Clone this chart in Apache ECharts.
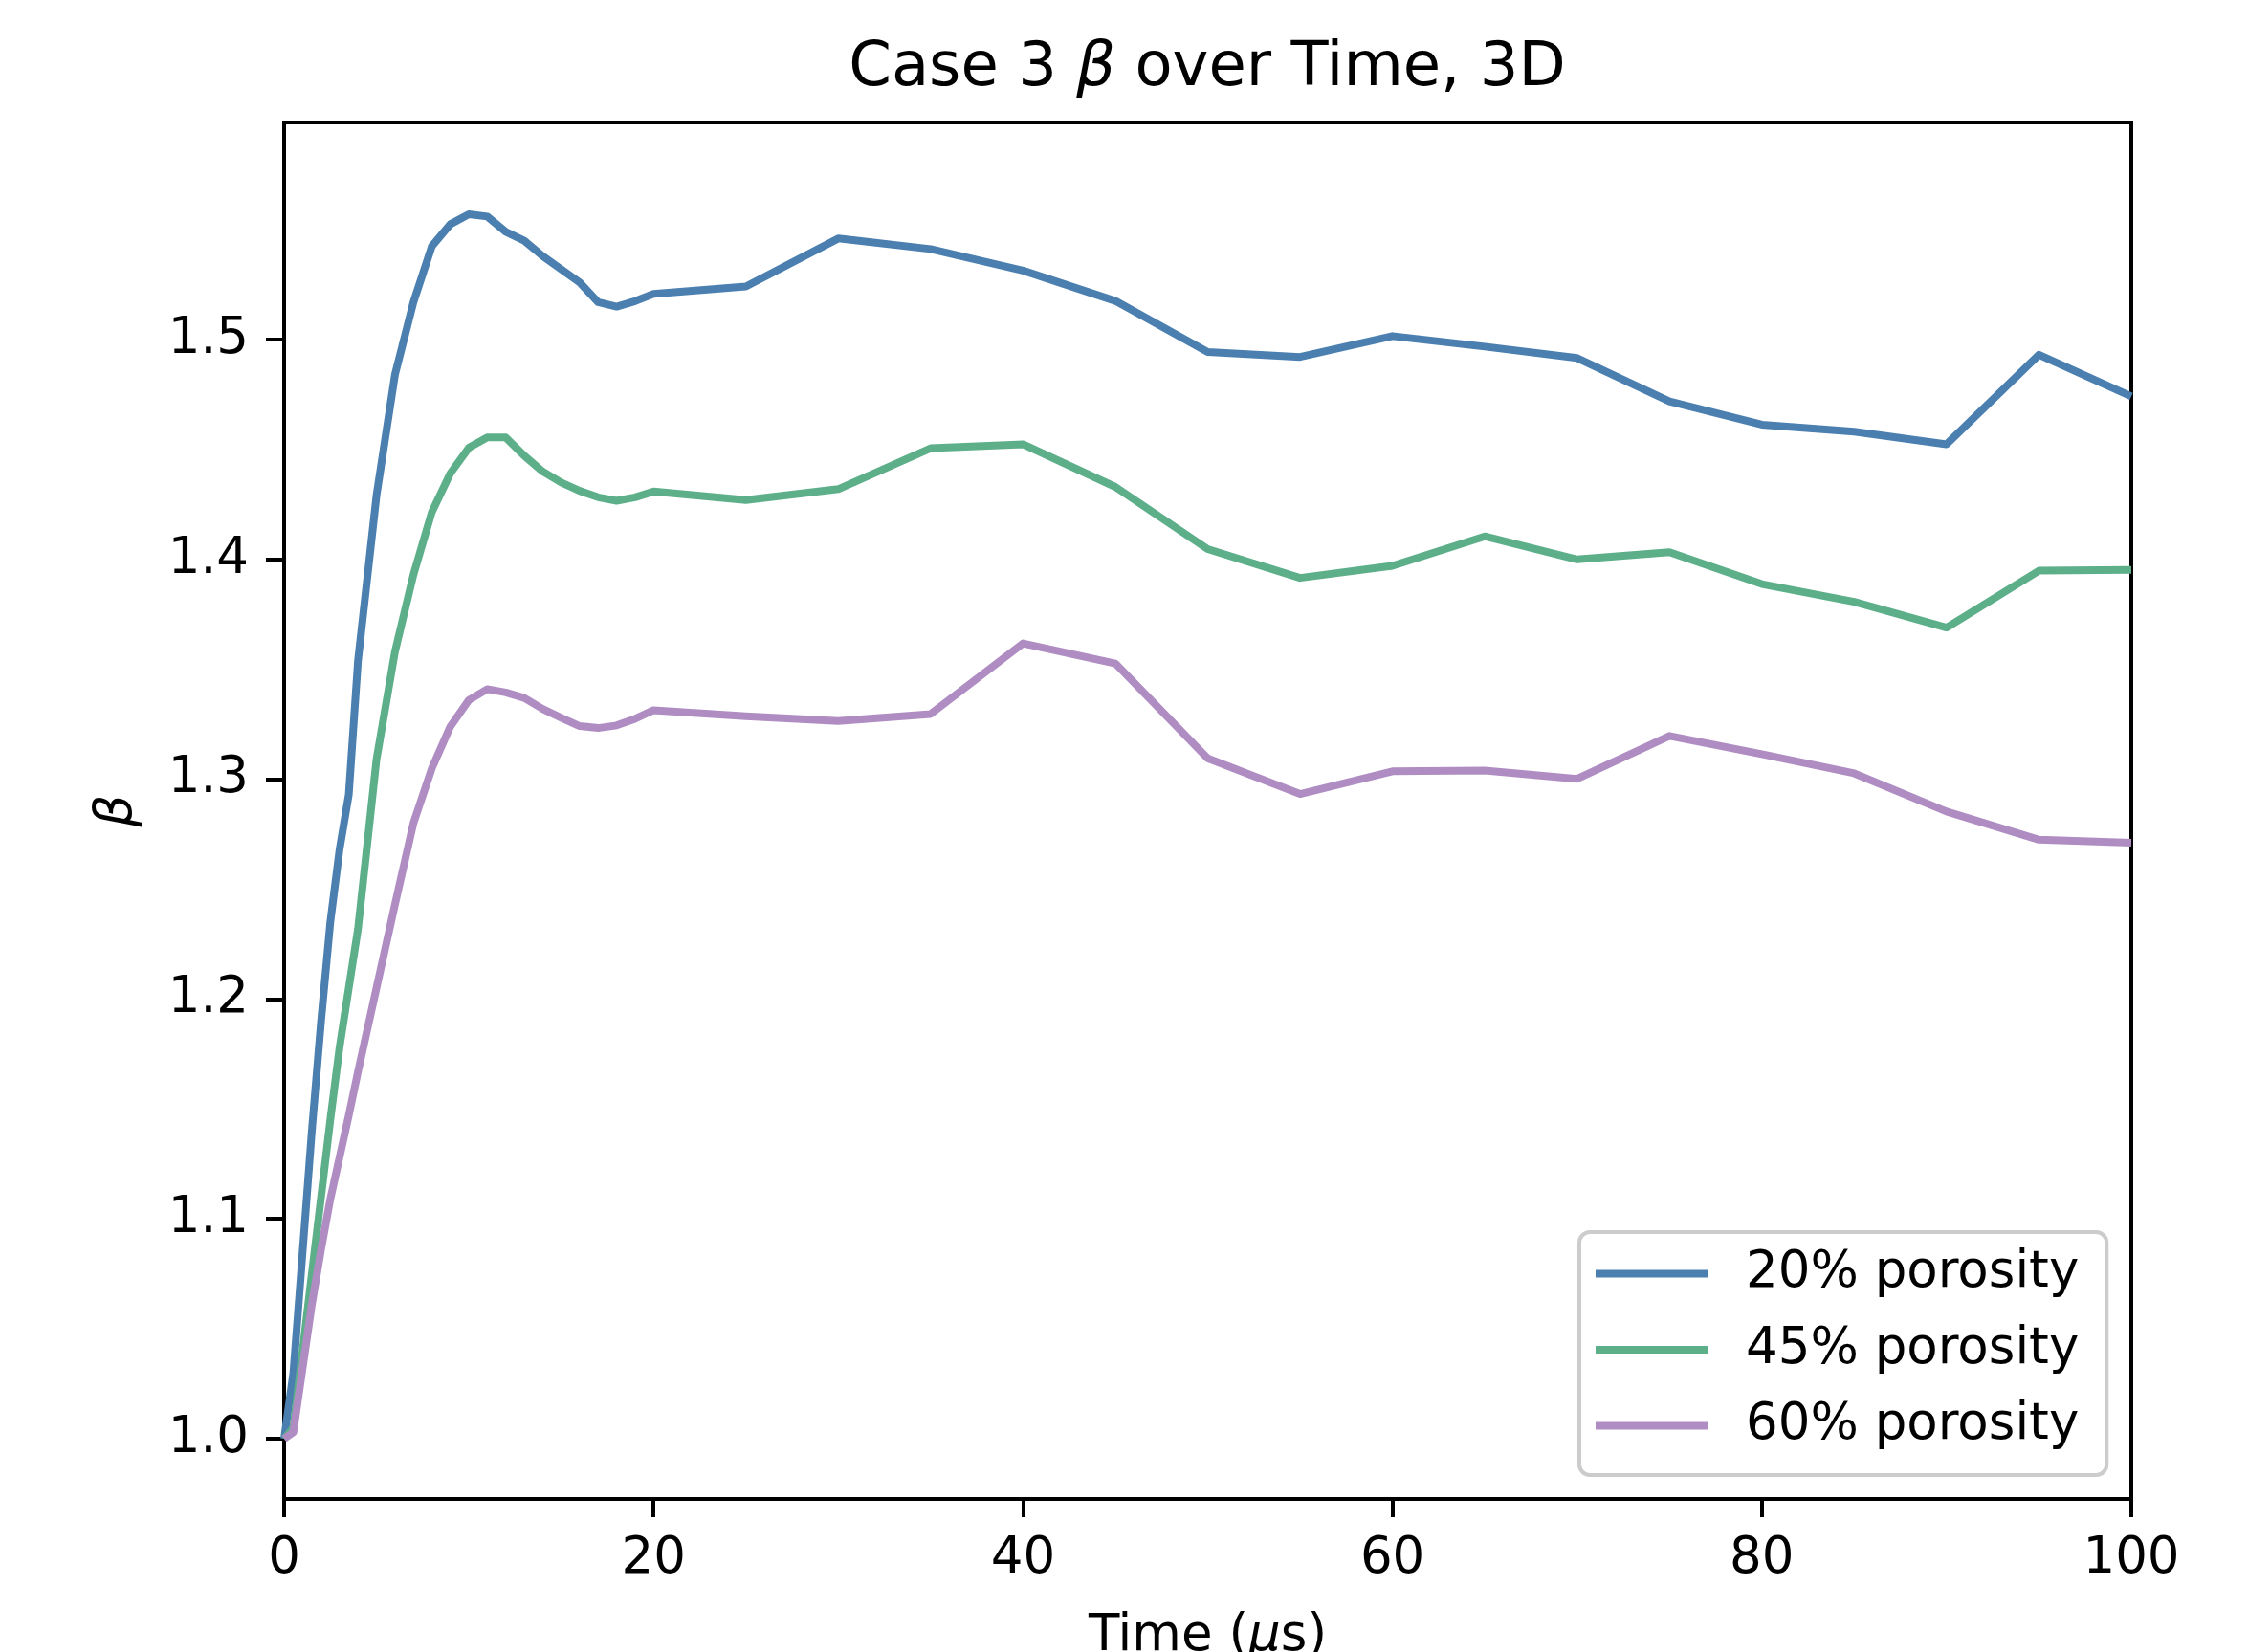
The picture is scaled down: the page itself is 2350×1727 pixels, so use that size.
<!DOCTYPE html>
<html>
<head>
<meta charset="utf-8">
<title>Case 3 beta over Time, 3D</title>
<script src="https://cdn.jsdelivr.net/npm/echarts@6/dist/echarts.min.js"></script>
<style>
  html, body { margin: 0; padding: 0; background: #fff; }
  #chart { width: 2350px; height: 1727px; }
</style>
</head>
<body>
<div id="chart"></div>
<script>
  // time points (µs), shared by the three runs
  var times = [0, 0.5, 1, 1.5, 2, 2.5, 3, 3.5, 4, 5, 6, 7, 8, 9, 10, 11, 12, 13, 14, 15, 16, 17, 18, 19, 20,
    25, 30, 35, 40, 45, 50, 55, 60, 65, 70, 75, 80, 85, 90, 95, 100];

  var beta20 = [1.000, 1.030, 1.085, 1.140, 1.190, 1.235, 1.268, 1.293, 1.354, 1.429, 1.484, 1.517, 1.5425, 1.5525,
    1.557, 1.556, 1.549, 1.545, 1.538, 1.532, 1.526, 1.517, 1.515, 1.5175, 1.5208,
    1.5242, 1.546, 1.5412, 1.5314, 1.5176, 1.4944, 1.4921, 1.5016, 1.4968, 1.4916, 1.4719, 1.4613, 1.4581,
    1.4524, 1.4931, 1.4742];

  var beta45 = [1.000, 1.005, 1.040, 1.075, 1.110, 1.145, 1.178, 1.205, 1.232, 1.309, 1.358, 1.393, 1.4216, 1.4392,
    1.4508, 1.4555, 1.4555, 1.4472, 1.440, 1.435, 1.4312, 1.4283, 1.4267, 1.4283, 1.4309,
    1.427, 1.432, 1.4506, 1.4524, 1.433, 1.4047, 1.3916, 1.3971, 1.4105, 1.400, 1.4033, 1.3888, 1.3807,
    1.369, 1.3949, 1.3952];

  var beta60 = [1.000, 1.003, 1.032, 1.061, 1.086, 1.109, 1.128, 1.147, 1.167, 1.205, 1.243, 1.280, 1.305, 1.324,
    1.336, 1.341, 1.3395, 1.337, 1.332, 1.328, 1.3242, 1.3233, 1.3245, 1.3275, 1.3314,
    1.3287, 1.3265, 1.3297, 1.3618, 1.3527, 1.3095, 1.2933, 1.3036, 1.304, 1.3002, 1.3197, 1.3114, 1.3027,
    1.2853, 1.2725, 1.2711];

  var seriesNames = ['20% porosity', '45% porosity', '60% porosity'];
  var seriesColors = ['#4a7fb0', '#5daf8a', '#af8dc3'];
  var yTicks = [1.0, 1.1, 1.2, 1.3, 1.4, 1.5];

  var font = 'DejaVu Sans';

  function pairs(ys) {
    return times.map(function (t, i) { return [t, ys[i]]; });
  }

  var chart = echarts.init(document.getElementById('chart'), null, {renderer: 'canvas'});

  chart.setOption({
    animation: false,
    backgroundColor: '#fff',
    title: {
      text: 'Case 3 {b|β} over Time, 3D',
      left: 1262,
      top: 40,
      textAlign: 'center',
      padding: 0,
      textStyle: {
        fontFamily: font,
        fontSize: 64,
        fontWeight: 'normal',
        color: '#000',
        rich: {
          b: {fontFamily: font, fontSize: 64, fontStyle: 'italic', color: '#000'}
        }
      }
    },
    grid: {
      left: 297,
      right: 122,
      top: 128,
      bottom: 160,
      outerBoundsMode: 'none',
      show: true,
      borderColor: '#000',
      borderWidth: 4,
      backgroundColor: 'transparent'
    },
    legend: {
      orient: 'vertical',
      left: 1651,
      top: 1288,
      data: seriesNames,
      icon: 'rect',
      itemWidth: 117,
      itemHeight: 8,
      itemGap: 0.5,
      padding: [4, 29, 12, 17],
      backgroundColor: '#fff',
      borderColor: '#cccccc',
      borderWidth: 4,
      borderRadius: 11,
      textStyle: {
        fontFamily: font,
        fontSize: 53,
        color: '#000',
        lineHeight: 79,
        padding: [0, 0, 0, 35]
      }
    },
    xAxis: {
      type: 'value',
      min: 0,
      max: 100,
      interval: 20,
      name: 'Time ({m|μ}s)',
      nameLocation: 'middle',
      nameGap: 118,
      nameTextStyle: {
        fontFamily: font,
        fontSize: 53,
        color: '#000',
        rich: {
          m: {fontFamily: font, fontSize: 53, fontStyle: 'italic', color: '#000'}
        }
      },
      splitLine: {show: false},
      axisLine: {show: true, onZero: false, lineStyle: {color: '#000', width: 4}},
      axisTick: {show: true, length: 19, lineStyle: {color: '#000', width: 4}},
      axisLabel: {
        margin: 37,
        fontFamily: font,
        fontSize: 53,
        color: '#000',
        showMinLabel: true,
        showMaxLabel: true
      }
    },
    yAxis: {
      type: 'value',
      min: 0.9726,
      max: 1.5988,
      name: 'β',
      nameLocation: 'middle',
      nameRotate: 90,
      nameGap: 147,
      nameTextStyle: {
        fontFamily: font,
        fontSize: 53,
        fontStyle: 'italic',
        color: '#000'
      },
      splitLine: {show: false},
      axisLine: {show: true, lineStyle: {color: '#000', width: 4}},
      axisTick: {
        show: true,
        length: 19,
        customValues: yTicks,
        lineStyle: {color: '#000', width: 4}
      },
      axisLabel: {
        margin: 37,
        fontFamily: font,
        fontSize: 53,
        color: '#000',
        customValues: yTicks,
        formatter: function (v) { return v.toFixed(1); }
      }
    },
    series: [beta20, beta45, beta60].map(function (ys, i) {
      return {
        name: seriesNames[i],
        type: 'line',
        data: pairs(ys),
        showSymbol: false,
        symbol: 'none',
        color: seriesColors[i],
        lineStyle: {color: seriesColors[i], width: 8, join: 'round'},
        itemStyle: {color: seriesColors[i]},
        clip: true
      };
    })
  });
</script>
</body>
</html>
